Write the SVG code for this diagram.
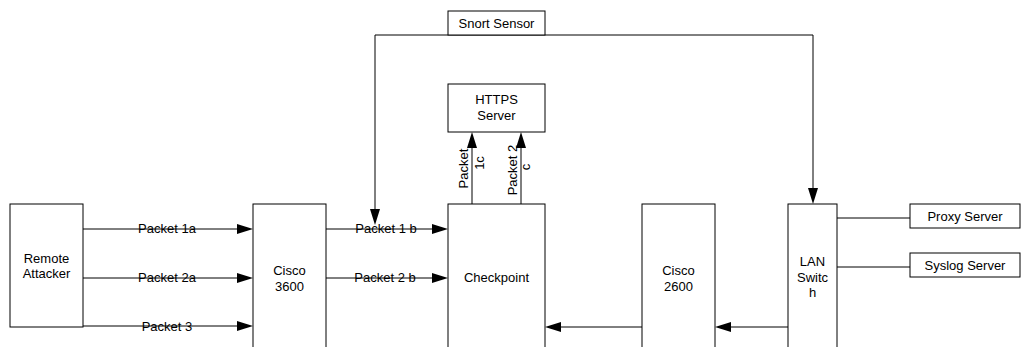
<svg xmlns="http://www.w3.org/2000/svg" width="1021" height="347" viewBox="0 0 1021 347">
<style>
.box{fill:#fff;stroke:#000;stroke-width:1}
.ln{fill:none;stroke:#000;stroke-width:1}
.ah{fill:#000;stroke:none}
text{font-family:"Liberation Sans",Arial,sans-serif;font-size:13px;fill:#000}
.c{text-anchor:middle}
</style>
<rect width="1021" height="347" fill="#fff"/>
<g id="connectors">
<line class="ln" x1="83" y1="229" x2="240" y2="229"/><polygon class="ah" points="253,229 237,224 237,234"/>
<line class="ln" x1="83" y1="278" x2="240" y2="278"/><polygon class="ah" points="253,278 237,273 237,283"/>
<line class="ln" x1="83" y1="326" x2="240" y2="326"/><polygon class="ah" points="253,326 237,321 237,331"/>
<line class="ln" x1="326" y1="229" x2="435" y2="229"/><polygon class="ah" points="448,229 432,224 432,234"/>
<line class="ln" x1="326" y1="278" x2="435" y2="278"/><polygon class="ah" points="448,278 432,273 432,283"/>
<line class="ln" x1="642" y1="327" x2="558" y2="327"/><polygon class="ah" points="545,327 561,322 561,332"/>
<line class="ln" x1="788" y1="327" x2="728" y2="327"/><polygon class="ah" points="715,327 731,322 731,332"/>
<polyline class="ln" points="375,212 375,35 813,35 813,192"/>
<polygon class="ah" points="375,225 370,209 380,209"/>
<polygon class="ah" points="813,204 808,188 818,188"/>
<line class="ln" x1="472" y1="204" x2="472" y2="145"/><polygon class="ah" points="472,132 467,148 477,148"/>
<line class="ln" x1="521" y1="204" x2="521" y2="145"/><polygon class="ah" points="521,132 516,148 526,148"/>
<line class="ln" x1="837" y1="218" x2="910" y2="218"/>
<line class="ln" x1="837" y1="267" x2="910" y2="267"/>
<text class="c" x="167" y="233">Packet 1a</text>
<text class="c" x="167" y="282">Packet 2a</text>
<text class="c" x="167" y="331">Packet 3</text>
<text class="c" x="386" y="233">Packet 1 b</text>
<text class="c" x="385" y="282">Packet 2 b</text>
<text class="c" transform="translate(468,168.5) rotate(-90)">Packet</text>
<text class="c" transform="translate(484,163) rotate(-90)">1c</text>
<text class="c" transform="translate(517,170) rotate(-90)">Packet 2</text>
<text class="c" transform="translate(530,167) rotate(-90)">c</text>
</g>
<g id="remote-attacker"><rect class="box" x="10" y="204" width="73" height="123"/><text class="c" x="46.5" y="263">Remote</text><text class="c" x="46.5" y="278">Attacker</text></g>
<g id="cisco-3600"><rect class="box" x="253" y="204" width="73" height="160"/><text class="c" x="289.5" y="275">Cisco</text><text class="c" x="289.5" y="291">3600</text></g>
<g id="checkpoint"><rect class="box" x="448" y="204" width="97" height="160"/><text class="c" x="496.5" y="282">Checkpoint</text></g>
<g id="cisco-2600"><rect class="box" x="642" y="204" width="73" height="160"/><text class="c" x="678.5" y="275">Cisco</text><text class="c" x="678.5" y="291">2600</text></g>
<g id="lan-switch"><rect class="box" x="788" y="204" width="49" height="160"/><text class="c" x="812.5" y="266">LAN</text><text class="c" x="812.5" y="282">Switc</text><text class="c" x="812.5" y="297">h</text></g>
<g id="snort-sensor"><rect class="box" x="448" y="11" width="97" height="24"/><text class="c" x="496.5" y="28">Snort Sensor</text></g>
<g id="https-server"><rect class="box" x="448" y="84" width="97" height="48"/><text class="c" x="496.5" y="104">HTTPS</text><text class="c" x="496.5" y="120">Server</text></g>
<g id="proxy-server"><rect class="box" x="910" y="204" width="110" height="24"/><text class="c" x="965" y="221">Proxy Server</text></g>
<g id="syslog-server"><rect class="box" x="910" y="253" width="110" height="24"/><text class="c" x="965" y="270">Syslog Server</text></g>
</svg>
